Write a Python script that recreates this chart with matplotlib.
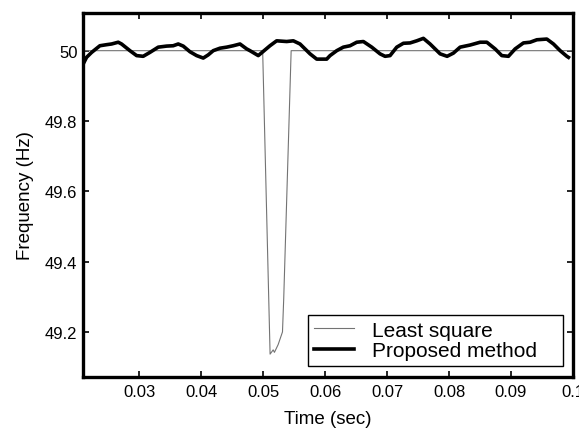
# -*- coding: utf-8 -*-
"""
Frequency estimate: least square vs. proposed method.
"""

# --IMPORTS---
import matplotlib
matplotlib.use('Agg')
import matplotlib.pyplot as plt

# --DATA---
lsTime = [0.0209, 0.0499, 0.0511, 0.0516, 0.0518, 0.0524, 0.0531, 0.0533, 0.0545, 0.1]
lsFreq = [50.0, 50.0, 49.138, 49.150, 49.143, 49.165, 49.201, 49.295, 50.0, 50.0]

pmTime = [0.02092, 0.02147, 0.02228, 0.02362, 0.02470, 0.02551, 0.02658, 0.02712,
          0.02847, 0.02955, 0.03061, 0.03169, 0.03304, 0.03439, 0.03546, 0.03627,
          0.03708, 0.03816, 0.03924, 0.04031, 0.04111, 0.04192, 0.04300, 0.04409,
          0.04515, 0.04624, 0.04732, 0.04785, 0.04919, 0.05108, 0.05216, 0.05378,
          0.05485, 0.05593, 0.05755, 0.05863, 0.06024, 0.06078, 0.06186, 0.06292,
          0.06401, 0.06509, 0.06616, 0.06751, 0.06885, 0.06966, 0.07047, 0.07155,
          0.07262, 0.07370, 0.07478, 0.07585, 0.07693, 0.07855, 0.07968, 0.08069,
          0.08178, 0.08339, 0.08501, 0.08609, 0.08743, 0.08851, 0.08958, 0.09066,
          0.09200, 0.09308, 0.09417, 0.09578, 0.09685, 0.09793, 0.09901, 0.09927]
pmFreq = [49.962, 49.981, 49.995, 50.014, 50.017, 50.019, 50.024, 50.019,
          50.000, 49.986, 49.984, 49.995, 50.010, 50.013, 50.014, 50.019,
          50.013, 49.997, 49.986, 49.979, 49.988, 50.000, 50.007, 50.010,
          50.014, 50.019, 50.005, 50.000, 49.986, 50.014, 50.028, 50.026,
          50.028, 50.019, 49.991, 49.976, 49.976, 49.986, 50.000, 50.010,
          50.014, 50.024, 50.026, 50.010, 49.991, 49.984, 49.986, 50.010,
          50.021, 50.022, 50.028, 50.035, 50.019, 49.991, 49.984, 49.993,
          50.010, 50.016, 50.024, 50.024, 50.005, 49.986, 49.984, 50.005,
          50.022, 50.024, 50.031, 50.033, 50.019, 50.000, 49.984, 49.981]

xTicks = [0.03, 0.04, 0.05, 0.06, 0.07, 0.08, 0.09, 0.1]
xTickLabels = ['0.03', '0.04', '0.05', '0.06', '0.07', '0.08', '0.09', '0.1']
yTicks = [49.2, 49.4, 49.6, 49.8, 50.0]
yTickLabels = ['49.2', '49.4', '49.6', '49.8', '50']


# ---FUNCTIONS---


def main():
    plt.rcParams['font.family'] = ['Liberation Sans', 'DejaVu Sans']

    fig = plt.figure(figsize=(5.79, 4.31), dpi=100)
    fig.subplots_adjust(left=0.1434, right=0.9896, top=0.9675, bottom=0.123)
    ax = fig.add_subplot(111)

    ax.plot(lsTime, lsFreq, color='0.45', lw=0.8, label='Least square')
    ax.plot(pmTime, pmFreq, color='black', lw=2.6, label='Proposed method')

    # Axes details
    ax.set_xlim(0.0209, 0.1)
    ax.set_ylim(49.073, 50.107)
    ax.set_xticks(xTicks)
    ax.set_xticklabels(xTickLabels)
    ax.set_yticks(yTicks)
    ax.set_yticklabels(yTickLabels)
    ax.tick_params(direction='in', length=4, width=1.2, labelsize=12,
                   top=True, right=True)
    ax.tick_params(axis='x', pad=5)
    ax.tick_params(axis='y', pad=4)
    for spine in ax.spines.values():
        spine.set_linewidth(2.4)

    ax.set_xlabel('Time (sec)', fontsize=13.5, labelpad=8)
    ax.set_ylabel('Frequency (Hz)', fontsize=13.5, labelpad=8)

    # Legend box stretched to the reference width (MATLAB style)
    leg = ax.legend(loc='lower left', mode='expand',
                    bbox_to_anchor=(0.459, 0.030, 0.521, 0.143),
                    borderaxespad=0, fontsize=15, fancybox=False,
                    framealpha=1, edgecolor='black',
                    handlelength=1.9, handletextpad=0.9, borderpad=0.3,
                    labelspacing=0.05)
    leg.get_frame().set_linewidth(1.0)

    fig.savefig('out.png', dpi=100)


# ---MAIN---
if __name__ == '__main__':
    main()
